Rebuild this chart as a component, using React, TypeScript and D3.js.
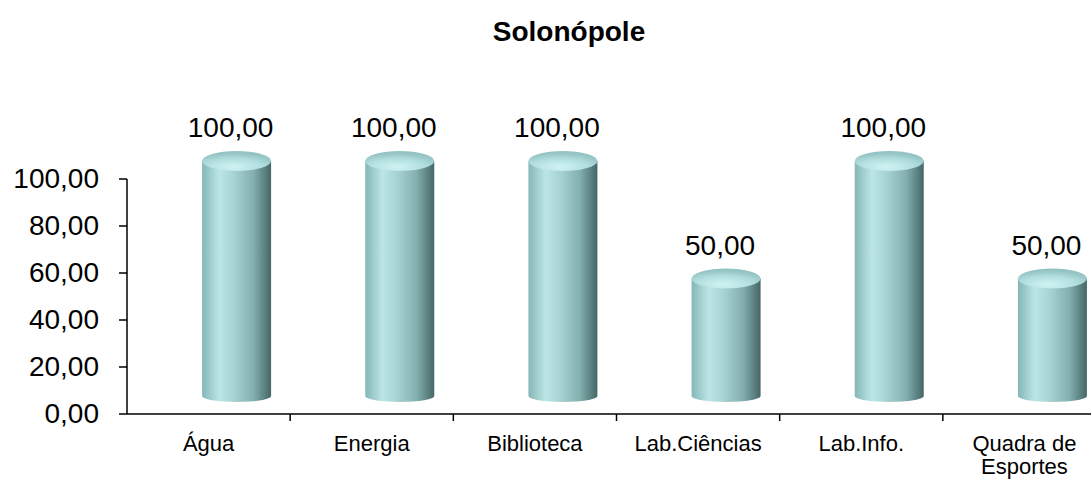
import React from 'react';
import * as d3 from 'd3';

const title = 'Solonópole';
const categories = ['Água', 'Energia', 'Biblioteca', 'Lab.Ciências', 'Lab.Info.', 'Quadra de Esportes'];
const values = [100, 100, 100, 50, 100, 50];
const yTicks = [0, 20, 40, 60, 80, 100];

const W = 1091;
const H = 480;
const FONT = 'Arial, "Liberation Sans", Helvetica, sans-serif';

const fmt = d3.formatLocale({ decimal: ',', thousands: '.', grouping: [3], currency: ['', ''] }).format('.2f');

// splits "Quadra de Esportes" into two lines like the original
function wrap(label: string): string[] {
  const parts = label.split(' ');
  if (parts.length < 3) return [label];
  return [parts.slice(0, 2).join(' '), parts.slice(2).join(' ')];
}

export default function App() {
  const x = d3.scaleBand<string>().domain(categories).range([127, 1106]).paddingInner(0).paddingOuter(0);
  const y = d3.scaleLinear().domain([0, 100]).range([414, 179]);

  // 3D depth offset of the cylinders
  const dx = 28;
  const dy = -18;
  const rx = 34.5;
  const ryTop = 10;
  const ryBot = 6;

  return (
    <svg width={W} height={H} style={{ position: 'absolute', left: 0, top: 0, background: '#fff' }}
      fontFamily={FONT}>
      <defs>
        <linearGradient id="body" x1="0" x2="1" y1="0" y2="0">
          <stop offset="0%" stopColor="#86b6b6" />
          <stop offset="25%" stopColor="#bce6e6" />
          <stop offset="45%" stopColor="#a8d4d4" />
          <stop offset="75%" stopColor="#82aeae" />
          <stop offset="100%" stopColor="#456666" />
        </linearGradient>
        <radialGradient id="cap" cx="45%" cy="80%" r="70%">
          <stop offset="0%" stopColor="#d0f3f3" />
          <stop offset="55%" stopColor="#b4e0e0" />
          <stop offset="100%" stopColor="#94c3c3" />
        </radialGradient>
      </defs>

      <text x={569} y={41} textAnchor="middle" fontSize={28} fontWeight="bold" fill="#000">{title}</text>

      {/* cylinders */}
      {categories.map((c, i) => {
        const cx = (x(c) as number) + x.bandwidth() / 2 + dx;
        const yTop = y(values[i]) + dy;
        const yBot = y(0) + dy;
        const x0 = cx - rx;
        const x1 = cx + rx;
        const d = `M${x0},${yTop} L${x0},${yBot} A${rx},${ryBot} 0 0 0 ${x1},${yBot} L${x1},${yTop} Z`;
        return (
          <g key={c}>
            <path d={d} fill="url(#body)" />
            <ellipse cx={cx} cy={yTop} rx={rx} ry={ryTop} fill="url(#cap)" />
            <text x={cx - 6} y={yTop - ryTop - 14} textAnchor="middle" fontSize={28} fill="#000">
              {fmt(values[i])}
            </text>
          </g>
        );
      })}

      {/* y axis */}
      <line x1={127} x2={127} y1={y(100)} y2={y(0)} stroke="#000" strokeWidth={1.5} />
      {yTicks.map(t => (
        <g key={t}>
          <line x1={119} x2={127} y1={y(t)} y2={y(t)} stroke="#000" strokeWidth={1.5} />
          <text x={99} y={y(t) + 9} textAnchor="end" fontSize={28} fill="#000">{fmt(t)}</text>
        </g>
      ))}

      {/* x axis */}
      <line x1={127} x2={1106} y1={y(0)} y2={y(0)} stroke="#000" strokeWidth={1.5} />
      {categories.map((c, i) => {
        const bx = x(c) as number;
        const lines = wrap(c);
        return (
          <g key={c}>
            {i > 0 && <line x1={bx} x2={bx} y1={y(0)} y2={y(0) + 7} stroke="#000" strokeWidth={1.5} />}
            {lines.map((l, j) => (
              <text key={j} x={bx + x.bandwidth() / 2} y={451 + j * 23} textAnchor="middle" fontSize={22} fill="#000">{l}</text>
            ))}
          </g>
        );
      })}
    </svg>
  );
}
